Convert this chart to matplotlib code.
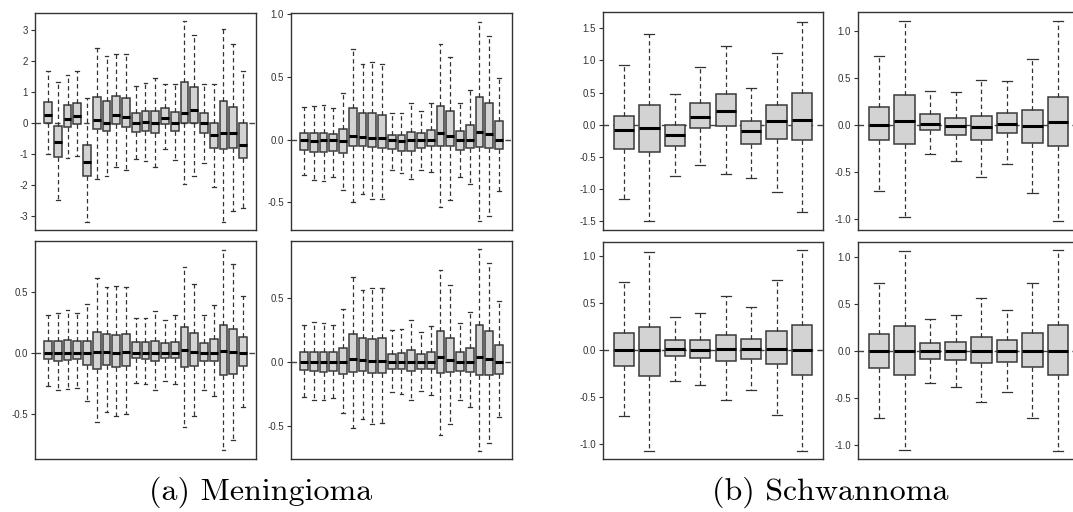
import matplotlib
matplotlib.use('Agg')
import matplotlib.pyplot as plt
from matplotlib.ticker import FormatStrFormatter

plt.rcParams['axes.unicode_minus'] = False
plt.rcParams['font.family'] = ['Liberation Sans', 'DejaVu Sans']

# ---- Meningioma, top-left
m1_lo = [-1.0, -2.47, -1.13, -1.05, -3.18, -1.82, -1.7, -1.42, -1.52, -1.15, -1.22,
         -1.42, -0.84, -1.2, -1.95, -1.7, -1.3, -2.07, -3.18, -2.85, -2.75]
m1_q1 = [0.0, -1.08, -0.12, -0.02, -1.7, -0.2, -0.26, -0.04, -0.12, -0.29, -0.26,
         -0.33, -0.04, -0.26, 0.0, 0.0, -0.33, -0.82, -0.85, -0.82, -1.12]
m1_med = [0.27, -0.62, 0.12, 0.24, -1.25, 0.1, 0.0, 0.27, 0.2, 0.0, 0.03,
          0.0, 0.17, 0.0, 0.31, 0.41, 0.0, -0.4, -0.33, -0.33, -0.7]
m1_q3 = [0.68, -0.1, 0.57, 0.66, -0.72, 0.85, 0.71, 0.87, 0.82, 0.32, 0.38,
         0.38, 0.48, 0.36, 1.32, 1.15, 0.32, 0.0, 0.71, 0.52, 0.0]
m1_hi = [1.67, 1.33, 1.55, 1.67, 0.8, 2.43, 2.16, 2.23, 2.23, 1.18, 1.3,
         1.45, 1.27, 1.27, 3.3, 2.85, 1.27, 1.25, 3.03, 2.55, 1.67]

# ---- Meningioma, top-right
m2_lo = [-0.28, -0.32, -0.33, -0.3, -0.4, -0.5, -0.43, -0.47, -0.47, -0.245, -0.265,
         -0.315, -0.24, -0.26, -0.54, -0.48, -0.3, -0.35, -0.645, -0.605, -0.41]
m2_q1 = [-0.08, -0.1, -0.1, -0.09, -0.11, -0.05, -0.05, -0.06, -0.07, -0.075, -0.09,
         -0.09, -0.063, -0.05, -0.05, -0.05, -0.08, -0.065, -0.055, -0.07, -0.075]
m2_med = [0.0, -0.01, 0.0, 0.0, -0.01, 0.03, 0.025, 0.015, 0.015, 0.0, -0.01,
          0.0, 0.0, 0.0, 0.05, 0.03, 0.0, 0.0, 0.06, 0.045, 0.0]
m2_q3 = [0.055, 0.055, 0.055, 0.047, 0.085, 0.25, 0.21, 0.21, 0.2, 0.037, 0.037,
         0.065, 0.055, 0.08, 0.27, 0.23, 0.07, 0.12, 0.34, 0.295, 0.15]
m2_hi = [0.263, 0.27, 0.275, 0.255, 0.37, 0.72, 0.6, 0.62, 0.6, 0.21, 0.21,
         0.295, 0.225, 0.29, 0.76, 0.66, 0.295, 0.395, 0.935, 0.83, 0.49]

# ---- Meningioma, bottom-left
m3_lo = [-0.27, -0.3, -0.295, -0.29, -0.39, -0.57, -0.48, -0.515, -0.5, -0.25, -0.255,
         -0.305, -0.23, -0.255, -0.61, -0.515, -0.3, -0.35, -0.8, -0.713, -0.443]
m3_q1 = [-0.05, -0.063, -0.057, -0.05, -0.1, -0.13, -0.1, -0.115, -0.11, -0.04, -0.05,
         -0.063, -0.04, -0.044, -0.118, -0.104, -0.068, -0.068, -0.18, -0.17, -0.104]
m3_med = [0.0, 0.0, 0.0, 0.0, 0.0, 0.01, 0.01, 0.0, 0.005, 0.0, 0.0,
          0.0, 0.0, 0.0, 0.025, 0.01, 0.0, 0.0, 0.02, 0.005, 0.0]
m3_q3 = [0.1, 0.1, 0.11, 0.1, 0.1, 0.17, 0.155, 0.148, 0.155, 0.088, 0.088,
         0.1, 0.082, 0.093, 0.213, 0.164, 0.082, 0.117, 0.232, 0.197, 0.128]
m3_hi = [0.31, 0.33, 0.35, 0.325, 0.4, 0.62, 0.54, 0.55, 0.54, 0.29, 0.29,
         0.345, 0.27, 0.31, 0.71, 0.57, 0.31, 0.395, 0.85, 0.73, 0.47]

# ---- Meningioma, bottom-right
m4_lo = [-0.277, -0.3, -0.3, -0.283, -0.4, -0.52, -0.45, -0.49, -0.48, -0.233, -0.25,
         -0.3, -0.228, -0.262, -0.57, -0.49, -0.3, -0.356, -0.694, -0.636, -0.43]
m4_q1 = [-0.065, -0.073, -0.08, -0.073, -0.094, -0.08, -0.073, -0.09, -0.084, -0.055, -0.055,
         -0.068, -0.055, -0.058, -0.09, -0.08, -0.073, -0.08, -0.105, -0.105, -0.094]
m4_med = [0.0, 0.0, 0.0, 0.0, 0.0, 0.02, 0.015, 0.005, 0.008, 0.0, 0.0,
          0.0, 0.0, 0.0, 0.034, 0.016, 0.0, 0.0, 0.04, 0.026, 0.0]
m4_q3 = [0.073, 0.08, 0.076, 0.076, 0.105, 0.217, 0.186, 0.18, 0.186, 0.065, 0.07,
         0.092, 0.06, 0.076, 0.238, 0.19, 0.076, 0.105, 0.29, 0.24, 0.134]
m4_hi = [0.285, 0.31, 0.305, 0.29, 0.41, 0.66, 0.56, 0.58, 0.58, 0.25, 0.26,
         0.33, 0.23, 0.277, 0.72, 0.6, 0.3, 0.39, 0.88, 0.77, 0.474]

# ---- Schwannoma, top-left
s1_lo = [-1.16, -1.49, -0.8, -0.62, -0.77, -0.83, -1.04, -1.36]
s1_q1 = [-0.38, -0.42, -0.325, -0.057, -0.026, -0.3, -0.22, -0.24]
s1_med = [-0.08, -0.05, -0.16, 0.125, 0.217, -0.1, 0.05, 0.072]
s1_q3 = [0.14, 0.31, 0.0, 0.33, 0.47, 0.05, 0.31, 0.5]
s1_hi = [0.92, 1.41, 0.47, 0.89, 1.22, 0.577, 1.12, 1.6]

# ---- Schwannoma, top-right
s2_lo = [-0.71, -0.98, -0.31, -0.39, -0.56, -0.413, -0.724, -1.025]
s2_q1 = [-0.166, -0.2, -0.06, -0.113, -0.166, -0.088, -0.19, -0.226]
s2_med = [0.0, 0.042, 0.01, -0.014, -0.028, 0.01, -0.01, 0.025]
s2_q3 = [0.184, 0.315, 0.11, 0.067, 0.092, 0.127, 0.16, 0.297]
s2_hi = [0.73, 1.1, 0.364, 0.35, 0.477, 0.466, 0.7, 1.1]

# ---- Schwannoma, bottom-left
s3_lo = [-0.71, -1.075, -0.33, -0.377, -0.53, -0.43, -0.694, -1.075]
s3_q1 = [-0.175, -0.285, -0.07, -0.09, -0.117, -0.103, -0.157, -0.274]
s3_med = [0.0, 0.0, 0.007, 0.0, 0.004, 0.004, 0.004, 0.0]
s3_q3 = [0.18, 0.245, 0.1, 0.103, 0.16, 0.117, 0.196, 0.26]
s3_hi = [0.72, 1.04, 0.345, 0.395, 0.576, 0.452, 0.744, 1.064]

# ---- Schwannoma, bottom-right
s4_lo = [-0.714, -1.048, -0.334, -0.384, -0.543, -0.433, -0.707, -1.058]
s4_q1 = [-0.18, -0.256, -0.082, -0.096, -0.124, -0.11, -0.17, -0.256]
s4_med = [0.0, 0.007, 0.0, 0.0, 0.0, 0.0, 0.0, 0.007]
s4_q3 = [0.185, 0.273, 0.092, 0.103, 0.153, 0.117, 0.192, 0.277]
s4_hi = [0.725, 1.066, 0.348, 0.39, 0.565, 0.44, 0.732, 1.08]

W, H = 1073, 512
fig = plt.figure(figsize=(W / 100, H / 100), dpi=100)


def px_axes(x0, y0, x1, y1):
    return fig.add_axes([x0 / W, 1 - y1 / H, (x1 - x0) / W, (y1 - y0) / H])


def draw_panel(ax, lo, q1, med, q3, hi, ylim, ticks, fmt):
    stats = [dict(whislo=a, q1=b, med=c, q3=d, whishi=e, fliers=[])
             for a, b, c, d, e in zip(lo, q1, med, q3, hi)]
    n = len(stats)
    ax.axhline(0, color='#444444', lw=1.0, ls=(0, (4, 3)), zorder=0)
    ax.bxp(stats, widths=0.8, patch_artist=True, showfliers=False,
           boxprops=dict(facecolor='#d3d3d3', edgecolor='#3a3a3a', linewidth=1.1),
           medianprops=dict(color='black', linewidth=2.2, solid_capstyle='butt'),
           whiskerprops=dict(color='#333333', linewidth=0.9, linestyle=(0, (3.5, 2.5))),
           capprops=dict(color='#333333', linewidth=0.9),
           capwidths=0.4)
    pad = 0.04 * n
    ax.set_xlim(0.5 - pad, n + 0.5 + pad)
    ax.set_ylim(*ylim)
    ax.set_xticks([])
    ax.set_yticks(ticks)
    ax.yaxis.set_major_formatter(FormatStrFormatter(fmt))
    ax.tick_params(axis='y', labelsize=7, length=3, width=0.8,
                   colors='#333333', pad=2)
    for sp in ax.spines.values():
        sp.set_color('#333333')
        sp.set_linewidth(1.0)


half = [-0.5, 0.0, 0.5]
draw_panel(px_axes(35, 13, 256, 230), m1_lo, m1_q1, m1_med, m1_q3, m1_hi,
           (-3.45, 3.55), [-3, -2, -1, 0, 1, 2, 3], '%d')
draw_panel(px_axes(291, 13, 512, 230), m2_lo, m2_q1, m2_med, m2_q3, m2_hi,
           (-0.72, 1.01), [-0.5, 0.0, 0.5, 1.0], '%.1f')
draw_panel(px_axes(35, 241, 256, 459), m3_lo, m3_q1, m3_med, m3_q3, m3_hi,
           (-0.87, 0.92), half, '%.1f')
draw_panel(px_axes(291, 241, 512, 459), m4_lo, m4_q1, m4_med, m4_q3, m4_hi,
           (-0.76, 0.945), half, '%.1f')

draw_panel(px_axes(603, 12, 823, 230), s1_lo, s1_q1, s1_med, s1_q3, s1_hi,
           (-1.635, 1.75), [-1.5, -1.0, -0.5, 0.0, 0.5, 1.0, 1.5], '%.1f')
draw_panel(px_axes(858, 12, 1079, 230), s2_lo, s2_q1, s2_med, s2_q3, s2_hi,
           (-1.12, 1.2), [-1.0, -0.5, 0.0, 0.5, 1.0], '%.1f')
draw_panel(px_axes(603, 242, 823, 459), s3_lo, s3_q1, s3_med, s3_q3, s3_hi,
           (-1.163, 1.146), [-1.0, -0.5, 0.0, 0.5, 1.0], '%.1f')
draw_panel(px_axes(858, 242, 1079, 459), s4_lo, s4_q1, s4_med, s4_q3, s4_hi,
           (-1.146, 1.163), [-1.0, -0.5, 0.0, 0.5, 1.0], '%.1f')

# captions
fig.text(261 / W, 1 - 492 / H, '(a) Meningioma', fontfamily='cmr10',
         fontsize=23, ha='center', va='center')
fig.text(830 / W, 1 - 492 / H, '(b) Schwannoma', fontfamily='cmr10',
         fontsize=23, ha='center', va='center')

fig.savefig('out.png', dpi=100)
